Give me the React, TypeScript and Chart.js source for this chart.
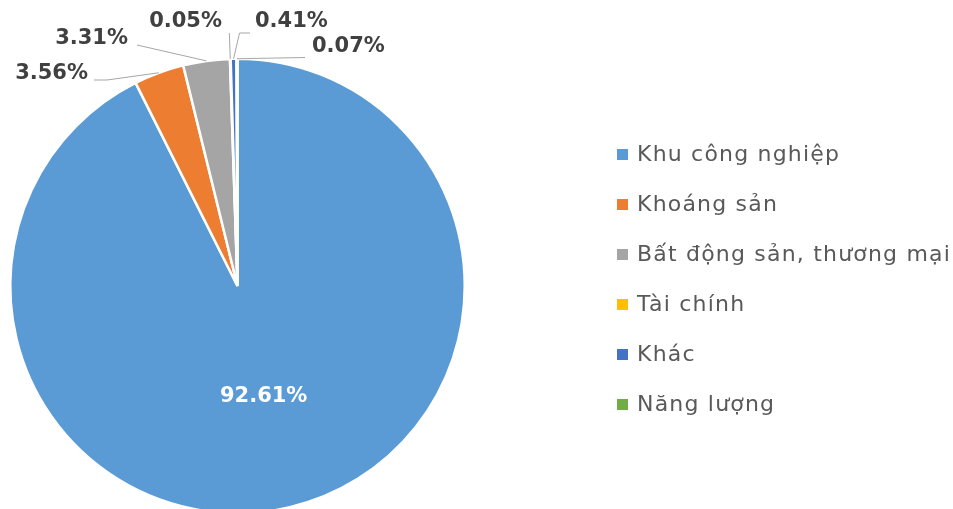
import React, { useEffect, useRef } from "react";
import { Chart, registerables } from "chart.js";

Chart.register(...registerables);

const categories = [
  "Khu công nghiệp",
  "Khoáng sản",
  "Bất động sản, thương mại",
  "Tài chính",
  "Khác",
  "Năng lượng",
];
const shares = [92.61, 3.56, 3.31, 0.05, 0.41, 0.07];
const valueLabels = ["92.61%", "3.56%", "3.31%", "0.05%", "0.41%", "0.07%"];
const colors = ["#5B9BD5", "#ED7D31", "#A5A5A5", "#FFC000", "#4472C4", "#70AD47"];

// Label placement (style/layout): leader path points and text anchor for outside labels
type Placement =
  | { inside: true; frac: number }
  | { inside: false; path: [number, number][]; tx: number; ty: number; align: CanvasTextAlign };

const placements: Placement[] = [
  { inside: true, frac: 0.5 },
  { inside: false, path: [[107, 80], [94, 80]], tx: 88, ty: 74, align: "right" },
  { inside: false, path: [[137, 45]], tx: 128, ty: 39, align: "right" },
  { inside: false, path: [[229.3, 33]], tx: 222, ty: 22, align: "right" },
  { inside: false, path: [[239.5, 33], [250, 33]], tx: 255, ty: 22, align: "left" },
  { inside: false, path: [[305, 57.5]], tx: 312, ty: 47, align: "left" },
];

const FONT = "'DejaVu Sans', sans-serif";

const labelPlugin = {
  id: "pieLabels",
  afterDatasetsDraw(chart: any) {
    const ctx = chart.ctx as CanvasRenderingContext2D;
    const meta = chart.getDatasetMeta(0);
    ctx.save();
    meta.data.forEach((arc: any, i: number) => {
      const { x, y, startAngle, endAngle, outerRadius } = arc.getProps(
        ["x", "y", "startAngle", "endAngle", "outerRadius"],
        true
      );
      const mid = (startAngle + endAngle) / 2;
      const p = placements[i];
      ctx.font = `bold 21px ${FONT}`;
      ctx.textBaseline = "middle";
      if (p.inside) {
        const r = outerRadius * p.frac;
        ctx.fillStyle = "#FFFFFF";
        ctx.textAlign = "center";
        ctx.fillText(valueLabels[i], x + Math.cos(mid) * r, y + Math.sin(mid) * r);
      } else {
        const sx = x + Math.cos(mid) * outerRadius;
        const sy = y + Math.sin(mid) * outerRadius;
        ctx.strokeStyle = "#A6A6A6";
        ctx.lineWidth = 1;
        ctx.beginPath();
        ctx.moveTo(sx, sy);
        p.path.forEach(([px, py]) => ctx.lineTo(px, py));
        ctx.stroke();
        ctx.fillStyle = "#404040";
        ctx.textAlign = p.align;
        ctx.fillText(valueLabels[i], p.tx, p.ty);
      }
    });
    ctx.restore();
  },
};

const legendPlugin = {
  id: "sideLegend",
  afterDraw(chart: any) {
    const ctx = chart.ctx as CanvasRenderingContext2D;
    ctx.save();
    ctx.font = `22px ${FONT}`;
    (ctx as any).letterSpacing = "1.2px";
    ctx.textBaseline = "middle";
    ctx.textAlign = "left";
    categories.forEach((name, i) => {
      const cy = 155 + i * 50;
      ctx.fillStyle = colors[i];
      ctx.fillRect(617, cy - 6, 11, 11);
      ctx.fillStyle = "#595959";
      ctx.fillText(name, 637, cy);
    });
    ctx.restore();
  },
};

export default function App() {
  const ref = useRef<HTMLCanvasElement>(null);
  useEffect(() => {
    if (!ref.current) return;
    const chart = new Chart(ref.current, {
      type: "pie",
      data: {
        labels: categories,
        datasets: [
          {
            data: shares,
            backgroundColor: colors,
            borderColor: "#FFFFFF",
            borderWidth: 2.5,
          },
        ],
      },
      options: {
        animation: false,
        responsive: false,
        events: [],
        layout: { padding: { left: 9, right: 487, top: 57.5, bottom: 5.5 } },
        plugins: {
          legend: { display: false },
          tooltip: { enabled: false },
        },
      },
      plugins: [labelPlugin, legendPlugin],
    });
    return () => chart.destroy();
  }, []);
  return (
    <div
      style={{
        position: "fixed",
        left: 0,
        top: 0,
        width: 953,
        height: 509,
        overflow: "hidden",
        background: "#FFFFFF",
      }}
    >
      <canvas ref={ref} width={953} height={520} style={{ display: "block" }} />
    </div>
  );
}
